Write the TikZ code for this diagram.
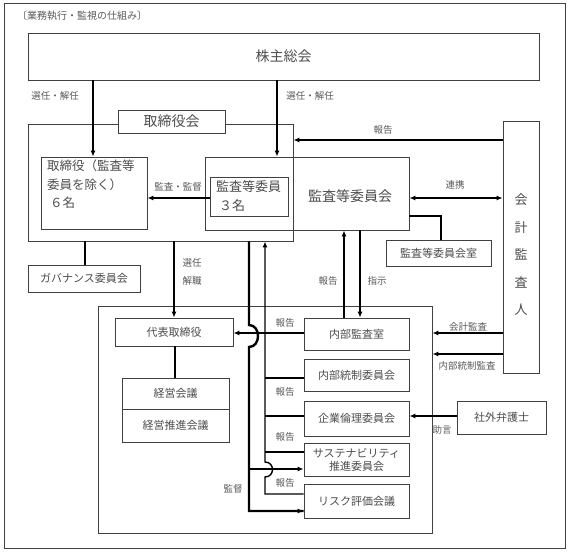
\documentclass[tikz,border=0pt]{standalone}
\usepackage{fontspec}
\setmainfont{Noto Sans CJK JP}
\usetikzlibrary{arrows.meta}
\tikzset{
  box/.style={draw=black!75, line width=0.8pt, inner sep=0pt, text=black!70},
  lbl/.style={inner sep=0pt, text=black!65, font=\fontsize{9.5}{11}\selectfont},
  con/.style={draw=black, line width=1.2pt},
  thk/.style={draw=black, line width=2.4pt},
  arr/.style={con, -{Latex[length=6pt,width=5pt]}},
  darr/.style={con, {Latex[length=6pt,width=5pt]}-{Latex[length=6pt,width=5pt]}},
  tarr/.style={thk, -{Latex[length=6pt,width=5pt]}},
  big/.style={font=\fontsize{14}{16}\selectfont},
  mid/.style={font=\fontsize{11}{13}\selectfont},
}
\begin{document}
\begin{tikzpicture}[x=1pt,y=-1pt]
\useasboundingbox (0,0) rectangle (570,554);
\fill[white] (0,0) rectangle (570,554);
\node[draw=black!75, line width=0.8pt, minimum width=561pt, minimum height=545pt, inner sep=0pt] (frame) at (284.5,275.5) {};
\node[lbl, anchor=west, font=\fontsize{10}{12}\selectfont] (title) at (17,16) {〔業務執行・監視の仕組み〕};

% top
\node[box, big, minimum width=511pt, minimum height=47pt] (soukai) at (283.5,56.5) {株主総会};
\node[box, minimum width=265pt, minimum height=117pt] (torikaiBig) at (160.5,182.5) {};
\node[box, big, fill=white, minimum width=107pt, minimum height=23pt] (torikai) at (171.5,121.5) {取締役会};
\node[box, minimum width=106pt, minimum height=72pt] (tori) at (94,193) {};
\node[lbl, anchor=north west, align=left, text=black!70, font=\fontsize{12.5}{18.5}\selectfont] (toriT) at (47,160) {取締役（監査等\\委員を除く）\\\ ６名};
\node[box, minimum width=204pt, minimum height=73pt] (kc) at (307,193.5) {};
\node[lbl, big, text=black!70] (kcT) at (350,196) {監査等委員会};
\node[box, minimum width=78pt, minimum height=39pt] (inner) at (249,196.5) {};
\node[lbl, anchor=north west, align=left, text=black!70, font=\fontsize{13}{19}\selectfont] (innerT) at (216,180) {監査等委員\\\ ３名};
\node[box, mid, minimum width=105pt, minimum height=26pt] (room) at (438.5,253) {監査等委員会室};
\node[box, minimum width=36pt, minimum height=252pt] (aud) at (521,247) {};
\node[lbl, align=center, text=black!70, font=\fontsize{13}{27.5}\selectfont] (audT) at (521,255) {会\\計\\監\\査\\人};
\node[box, mid, minimum width=112pt, minimum height=27pt] (gov) at (84,278.5) {ガバナンス委員会};

% lower
\node[box, minimum width=334pt, minimum height=227pt] (lower) at (265,419.5) {};
\node[box, mid, minimum width=118pt, minimum height=28pt] (daihyo) at (174,332) {代表取締役};
\node[box, mid, minimum width=107pt, minimum height=31pt] (keiei1) at (175.5,393.5) {経営会議};
\node[box, mid, minimum width=107pt, minimum height=33pt] (keiei2) at (175.5,425.5) {経営推進会議};
\node[box, mid, minimum width=105pt, minimum height=32pt] (nk) at (356.5,334) {内部監査室};
\node[box, mid, minimum width=105pt, minimum height=32pt] (nt) at (356.5,375) {内部統制委員会};
\node[box, mid, minimum width=105pt, minimum height=35pt] (kr) at (356.5,418.5) {企業倫理委員会};
\node[box, mid, align=center, minimum width=105pt, minimum height=33pt] (su) at (356.5,459.5) {サステナビリティ\\推進委員会};
\node[box, mid, minimum width=105pt, minimum height=34pt] (ri) at (356.5,501) {リスク評価会議};
\node[box, mid, minimum width=89pt, minimum height=33pt] (ben) at (501.5,417.5) {社外弁護士};

% connectors top
\draw[arr] (93,0 |- soukai.south) -- (93,0 |- tori.north);
\draw[arr] (277,0 |- soukai.south) -- (277,0 |- kc.north);
\node[lbl] (l1) at (55,96) {選任・解任};
\node[lbl] (l2) at (310,96) {選任・解任};
\draw[arr] (0,198 -| inner.west) -- (0,198 -| tori.east);
\node[lbl] (l3) at (178,187) {監査・監督};
\draw[arr] (0,140 -| aud.west) -- (0,140 -| torikaiBig.east);
\node[lbl] (l4) at (383,130) {報告};
\draw[darr] (0,198 -| kc.east) -- (0,198 -| aud.west);
\node[lbl] (l5) at (455,185) {連携};
\draw[thk] (0,216 -| kc.east) -- (441,216) -- (441,0 |- room.north);
\draw[thk] (85,0 |- torikaiBig.south) -- (85,0 |- gov.north);
\draw[arr] (174,0 |- torikaiBig.south) -- (174,0 |- daihyo.north);
\node[lbl] (l6) at (192,263) {選任};
\node[lbl] (l7) at (192,281) {解職};
\draw[thk] (175,0 |- daihyo.south) -- (175,0 |- keiei1.north);

% kansa <-> naibu kansa
\draw[arr] (344,0 |- nk.north) -- (344,0 |- kc.south);
\draw[arr] (360,0 |- kc.south) -- (360,0 |- nk.north);
\node[lbl] (l8) at (328,281) {報告};
\node[lbl] (l9) at (377,281) {指示};

% auditor -> lower box
\draw[arr] (0,333 -| aud.west) -- (0,333 -| lower.east);
\node[lbl] (l10) at (468,327) {会計監査};
\draw[arr] (0,354 -| aud.west) -- (0,354 -| lower.east);
\node[lbl] (l11) at (467,366) {内部統制監査};
\draw[arr] (0,416 -| ben.west) -- (0,416 -| kr.east);
\node[lbl] (l12) at (442,430) {助言};

% report line from naibu kansa
\draw[arr] (0,333 -| nk.west) -- (0,333 -| daihyo.east);

% supervision line (thick) x=249
\coordinate (s0) at (249,0 |- torikaiBig.south);
\draw[thk] (s0) -- (249,325) .. controls (261,325) and (261,347) .. (249,347) -- (249,511) -- (0,511 -| ri.west);
\draw[-{Latex[length=6pt,width=5pt]}, line width=1pt] (290,511) -- (0,511 -| ri.west);
\draw[arr, line width=1.4pt] (249,469) -- (0,469 -| su.west);
\node[lbl] (l13) at (233,489) {監督};

% report collector x=265
\coordinate (r0) at (265,0 |- torikaiBig.south);
\draw[con, line width=1.4pt, {Latex[length=6pt,width=5pt]}-] (r0) -- (265,462) .. controls (275,462) and (275,477) .. (265,477) -- (265,494) -- (0,494 -| ri.west);
\draw[con, line width=2pt] (265,378) -- (0,378 -| nt.west);
\draw[con, line width=2.6pt] (265,416) -- (0,416 -| kr.west);
\draw[con, line width=2pt] (265,452) -- (0,452 -| su.west);
\node[lbl] (l14) at (285,323) {報告};
\node[lbl] (l15) at (285,392) {報告};
\node[lbl] (l16) at (285,437) {報告};
\node[lbl] (l17) at (285,483) {報告};
\end{tikzpicture}
\end{document}
